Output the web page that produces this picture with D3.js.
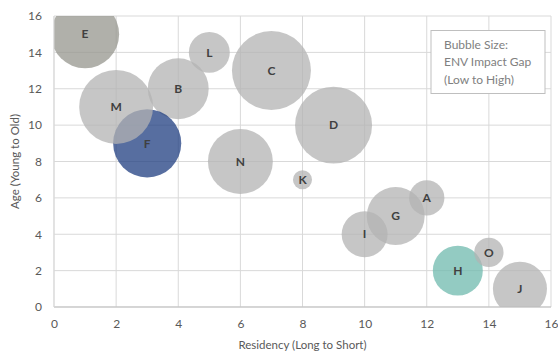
<!DOCTYPE html>
<html><head><meta charset="utf-8">
<script src="https://cdn.jsdelivr.net/npm/d3@7"></script>
<style>body{margin:0;background:#fff;}svg{display:block;font-family:Lato,"Open Sans",sans-serif;}</style>
</head><body><svg id="c" width="558" height="353"></svg>
<script>
const labels = ["A","B","C","D","E","F","G","H","I","J","K","L","M","N","O"];
const residency = [12,4,7,9,1,3,11,13,10,15,8,5,2,6,14];
const age = [6,12,13,10,15,9,5,2,4,1,7,14,11,8,3];
const impactGap = [3.2,9.5,16,15.2,11.9,11.9,8.6,6.4,5.4,7.5,0.93,4.3,14,10.8,2.2];
const fills = {E:"#96958d",F:"#1f3d80",H:"#6fb9ad"};
const defaultFill = "#b3b3b3";
const xTicks = [0,2,4,6,8,10,12,14,16];
const yTicks = [0,2,4,6,8,10,12,14,16];
const legendLines = ["Bubble Size:","ENV Impact Gap","(Low to High)"];

const svg = d3.select("#c");
const m = {l:54, r:7, t:16, b:46};
const W = 558, H = 353;
const x = d3.scaleLinear().domain([0,16]).range([m.l, W-m.r]);
const y = d3.scaleLinear().domain([0,16]).range([H-m.b, m.t]);
const r = d3.scaleSqrt().domain([0,16]).range([0,39.5]);

// grid
const g = svg.append("g");
g.selectAll("line.v").data(xTicks).join("line")
  .attr("x1",d=>x(d)).attr("x2",d=>x(d)).attr("y1",y(0)).attr("y2",y(16))
  .attr("stroke","#d9d9d9").attr("stroke-width",1);
g.selectAll("line.h").data(yTicks).join("line")
  .attr("y1",d=>y(d)).attr("y2",d=>y(d)).attr("x1",x(0)).attr("x2",x(16))
  .attr("stroke","#d9d9d9").attr("stroke-width",1);

svg.append("defs").append("clipPath").attr("id","pc").append("rect")
  .attr("x",x(0)).attr("y",y(16)).attr("width",x(16)-x(0)).attr("height",y(0)-y(16));

const data = labels.map((l,i)=>({l, x:residency[i], y:age[i], s:impactGap[i]}));
const bub = svg.append("g").attr("clip-path","url(#pc)");
bub.selectAll("circle").data(data).join("circle")
  .attr("cx",d=>x(d.x)).attr("cy",d=>y(d.y)).attr("r",d=>r(d.s))
  .attr("fill",d=>fills[d.l]||defaultFill).attr("fill-opacity",0.75);

svg.append("g").selectAll("text").data(data).join("text")
  .attr("x",d=>x(d.x)).attr("y",d=>y(d.y)).attr("dy","0.35em")
  .attr("text-anchor","middle").attr("font-size",12).attr("font-weight","bold")
  .attr("fill","#404040").text(d=>d.l);

// axes
const xa = svg.append("g").attr("transform",`translate(0,${y(0)})`)
  .call(d3.axisBottom(x).tickValues(xTicks).tickSize(0).tickPadding(12));
const ya = svg.append("g").attr("transform",`translate(${x(0)},0)`)
  .call(d3.axisLeft(y).tickValues(yTicks).tickSize(0).tickPadding(12));
[xa,ya].forEach(a=>{
  a.selectAll("text").attr("font-size",12).attr("fill","#595959").attr("font-family","Lato,'Open Sans',sans-serif");
});
ya.select(".domain").remove();
xa.select(".domain").remove();
svg.append("line").attr("x1",x(0)).attr("x2",x(16)).attr("y1",y(0)).attr("y2",y(0)).attr("stroke","#bfbfbf");
svg.append("line").attr("x1",x(0)).attr("x2",x(0)).attr("y1",y(0)).attr("y2",y(16)).attr("stroke","#d9d9d9");

svg.append("text").attr("x",(x(0)+x(16))/2).attr("y",349).attr("text-anchor","middle")
  .attr("font-size",11.5).attr("fill","#595959").text("Residency (Long to Short)");
svg.append("text").attr("transform",`translate(19,${(y(0)+y(16))/2}) rotate(-90)`)
  .attr("text-anchor","middle").attr("font-size",11.5).attr("fill","#595959").text("Age (Young to Old)");

// legend box
const lg = svg.append("g");
lg.append("rect").attr("x",431).attr("y",30.5).attr("width",114).attr("height",63)
  .attr("fill","#fff").attr("stroke","#bfbfbf").attr("stroke-width",1);
lg.selectAll("text").data(legendLines).join("text")
  .attr("x",444).attr("y",(d,i)=>49+i*17.3).attr("font-size",12).attr("fill","#808080").text(d=>d);
</script></body></html>
